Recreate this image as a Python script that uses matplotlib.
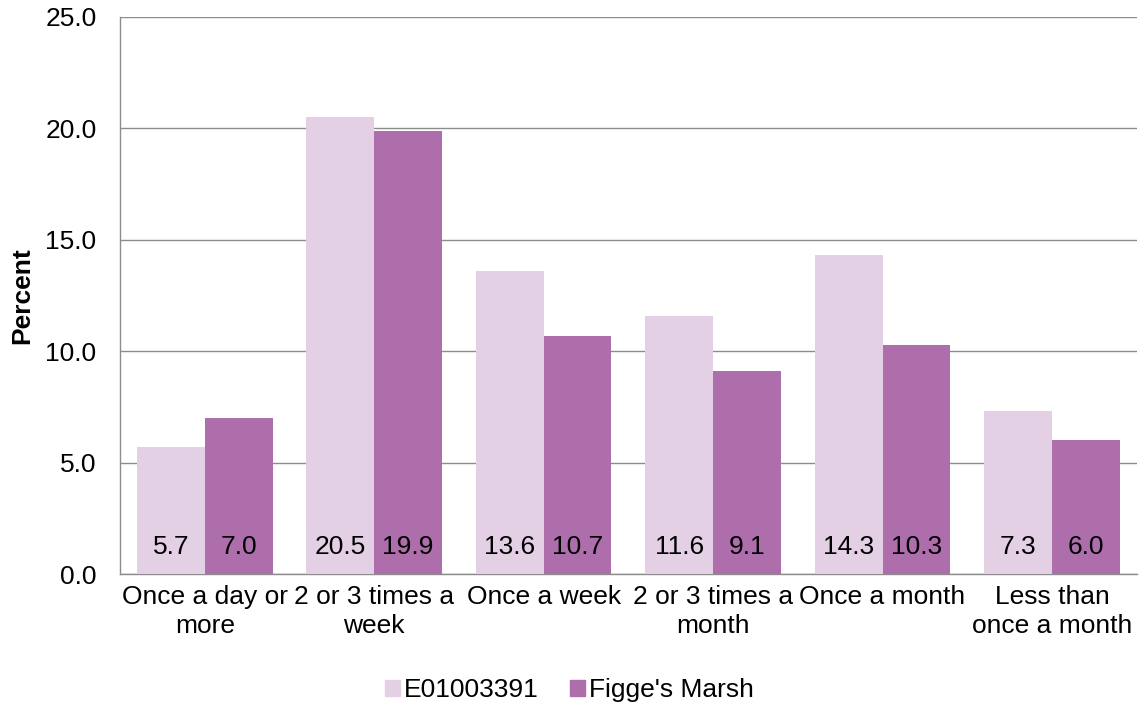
import numpy as np
import matplotlib.pyplot as plt
from matplotlib.patches import Patch

plt.rcParams['font.family'] = ['Liberation Sans', 'DejaVu Sans']

categories = ['Once a day or\nmore', '2 or 3 times a\nweek', 'Once a week',
              '2 or 3 times a\nmonth', 'Once a month', 'Less than\nonce a month']
area = [5.7, 20.5, 13.6, 11.6, 14.3, 7.3]
marsh = [7.0, 19.9, 10.7, 9.1, 10.3, 6.0]
series_names = ['E01003391', "Figge's Marsh"]
colors = ['#E4D0E4', '#AE6EAC']
fs = 19

fig = plt.figure(figsize=(11.39, 7.07), dpi=100)
ax = fig.add_axes([0.1054, 0.188, 0.8926, 0.788])

x = np.arange(len(categories))
w = 0.4
b1 = ax.bar(x - w / 2, area, w, color=colors[0], zorder=3)
b2 = ax.bar(x + w / 2, marsh, w, color=colors[1], zorder=3)

# value labels sit near the base of each bar
for bars, vals in ((b1, area), (b2, marsh)):
    for rect, v in zip(bars, vals):
        ax.text(rect.get_x() + rect.get_width() / 2, 1.2, f'{v:.1f}',
                ha='center', va='center', fontsize=fs, color='black', zorder=4)

ax.set_xlim(-0.5, len(categories) - 0.5)
ax.set_ylim(0, 25)
ax.set_yticks(np.arange(0, 25.1, 5))
ax.set_yticklabels([f'{t:.1f}' for t in np.arange(0, 25.1, 5)])
ax.set_xticks(x)
ax.set_xticklabels(categories, fontsize=fs, linespacing=1.25)
ax.tick_params(axis='y', labelsize=fs, length=0, pad=17)
ax.tick_params(axis='x', length=0, pad=8)

ax.grid(axis='y', color='#8c8c8c', linewidth=1, zorder=0)
for side in ('top', 'right'):
    ax.spines[side].set_visible(False)
for side in ('left', 'bottom'):
    ax.spines[side].set_color('#8c8c8c')
    ax.spines[side].set_linewidth(1)

ax.set_ylabel('Percent', fontsize=fs, fontweight='bold', labelpad=8)

handles = [Patch(color=c, label=n) for c, n in zip(colors, series_names)]
fig.legend(handles=handles, loc='center', bbox_to_anchor=(0.5, 0.024), ncol=2,
           frameon=False, fontsize=fs, handlelength=0.55, handleheight=0.55,
           handletextpad=0.15, columnspacing=1.2)

fig.savefig('out.png', dpi=100)
